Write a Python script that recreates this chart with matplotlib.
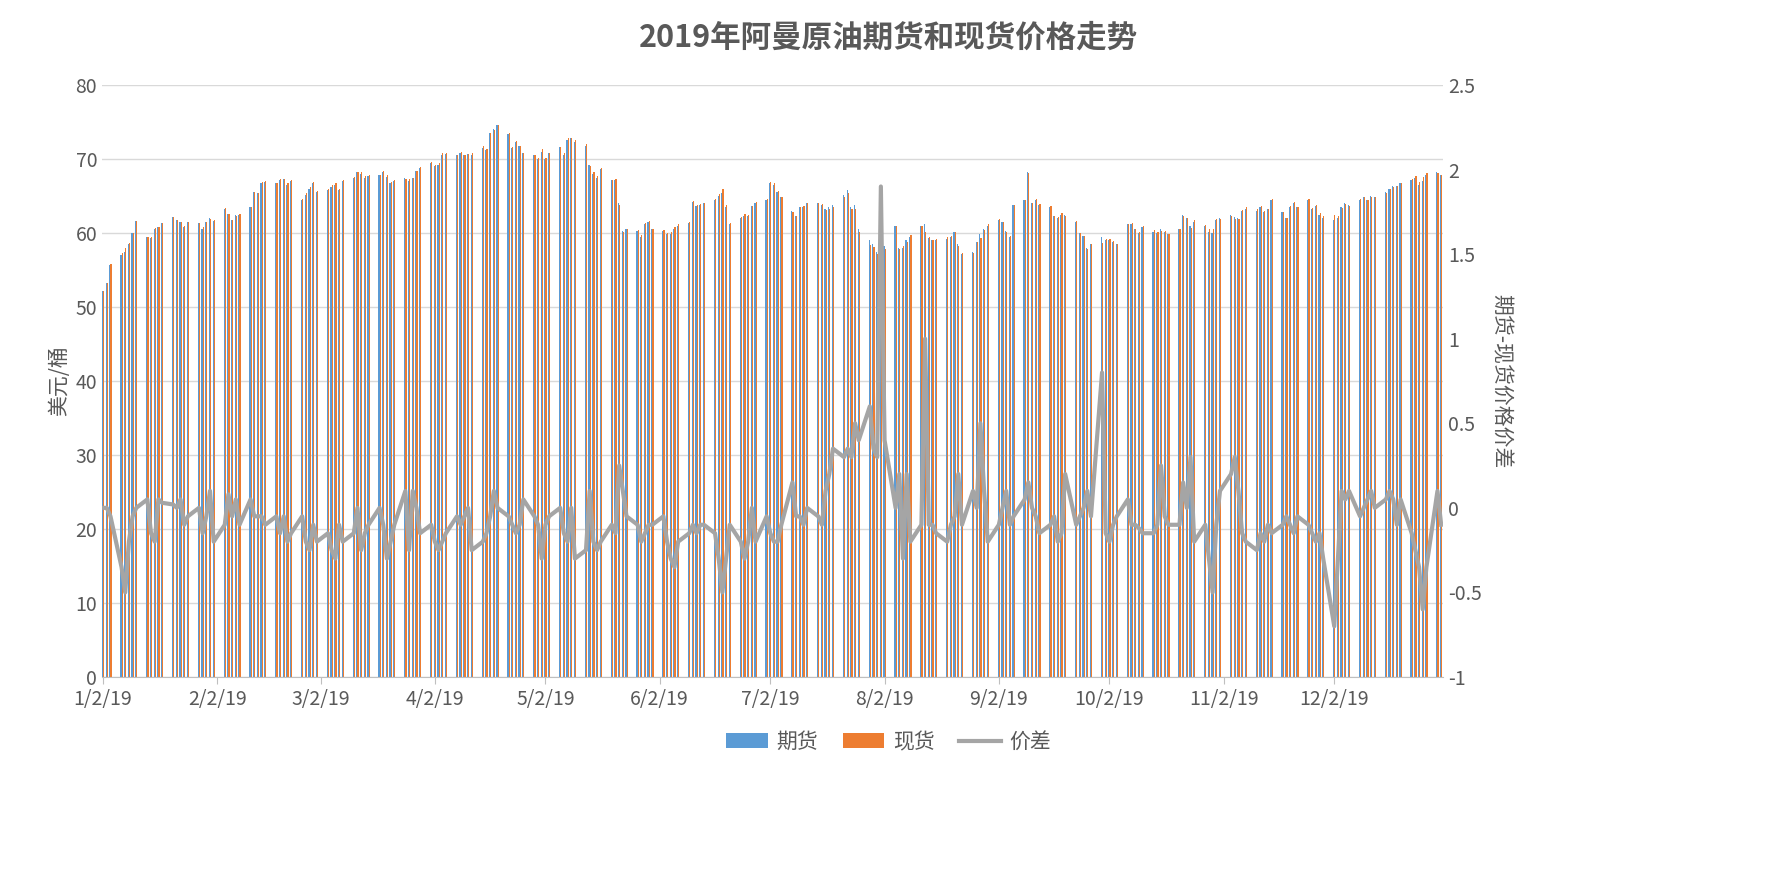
import matplotlib
matplotlib.use("Agg")
import matplotlib.pyplot as plt
import matplotlib.dates as mdates
import pandas as pd
import numpy as np

plt.rcParams['font.family'] = ['Noto Sans CJK SC', 'DejaVu Sans']

# futures price (USD/bbl), one value per business day, by month
futures = [
    52.2, 53.3, 55.7, 57, 57.5, 58.5, 60, 61.6, 59.5, 59.3, 60.5, 60.8, 61.4, 62.2, 61.8, 61.5, 60.8, 61.5, 61.3, 60.6, 61.5, 62.0,
    61.6, 63.3, 62.6, 61.7, 62.4, 62.5, 63.5, 65.5, 65.4, 66.8, 66.9, 66.7, 67.2, 67.3, 66.5, 67.0, 64.5, 65.2, 66.0, 66.8,
    65.5, 65.8, 66.2, 66.5, 65.8, 67.0, 67.4, 68.3, 68.0, 67.5, 67.7, 67.8, 68.3, 67.6, 66.7, 67.0, 67.4, 67.0, 67.5, 68.4, 68.8,
    69.5, 69.0, 69.2, 70.6, 70.7, 70.5, 70.8, 70.5, 70.7, 70.5, 71.5, 71.2, 73.5, 74.0, 74.6, 73.4, 71.5, 72.3, 71.7, 70.8, 70.5, 70.0,
    71.0, 70.0, 70.8, 71.6, 70.6, 72.6, 72.9, 72.3, 71.8, 69.2, 68.0, 67.5, 68.6, 67.1, 67.2, 64.0, 60.3, 60.5, 60.3, 59.5, 61.2, 61.5, 60.5,
    60.3, 59.8, 59.8, 60.5, 61.0, 61.3, 64.2, 63.6, 63.8, 64.0, 64.5, 65.0, 65.4, 63.5, 61.2, 62.0, 62.3, 62.3, 63.6, 64.0,
    64.5, 66.7, 66.5, 65.5, 64.8, 63.0, 62.3, 63.5, 63.5, 64.0, 64.0, 63.8, 63.2, 63.5, 63.8, 65.2, 65.8, 63.5, 63.8, 60.5, 59.0, 58.5, 57.5,
    57.8, 58.2, 61.0, 58.0, 58.0, 59.0, 59.5, 60.9, 61.2, 59.3, 59.0, 59.0, 59.2, 59.5, 60.1, 58.5, 57.2, 57.4, 58.8, 59.8, 60.5, 61.0,
    61.8, 61.5, 60.3, 59.5, 63.8, 64.5, 68.3, 64.0, 64.5, 63.8, 63.5, 62.3, 62.0, 62.5, 62.5, 61.5, 60.0, 59.6, 58.0, 58.5, 59.5,
    59.0, 59.0, 58.8, 58.5, 61.2, 61.2, 60.5, 60.0, 60.8, 60.2, 60.0, 60.5, 60.2, 59.8, 60.5, 62.5, 62.0, 61.0, 61.5, 61.0, 60.2, 60.0, 61.8,
    62.0, 62.5, 62.2, 62.0, 63.0, 63.3, 63.0, 63.5, 62.8, 63.2, 64.5, 62.8, 62.0, 63.5, 64.0, 63.5, 64.5, 63.2, 63.6, 62.5, 62.0,
    61.8, 62.0, 63.5, 64.0, 63.8, 64.5, 64.8, 64.5, 65.0, 64.8, 65.5, 66.0, 66.3, 66.3, 66.8, 67.2, 67.5, 66.5, 67.0, 67.8, 68.2, 67.8,
]

# futures - spot spread
spread = [
    0, 0, -0.05, -0.35, -0.5, -0.2, -0.05, 0, 0.05, -0.15, -0.2, 0.05, 0.03, 0.02, 0, 0.05, -0.1, -0.05, 0.0, -0.15, -0.05, 0.1,
    -0.2, -0.1, 0.08, -0.05, 0.05, -0.1, 0.05, -0.05, -0.05, -0.05, -0.1, -0.05, -0.15, -0.05, -0.2, -0.15, -0.05, -0.2, -0.25, -0.1,
    -0.2, -0.15, -0.25, -0.3, -0.1, -0.2, -0.15, 0, -0.25, -0.15, -0.1, 0.0, -0.1, -0.3, -0.2, -0.1, 0.1, -0.25, 0.1, 0.0, -0.15,
    -0.1, -0.2, -0.25, -0.2, -0.15, -0.05, -0.1, -0.05, 0.0, -0.25, -0.2, -0.15, -0.05, 0.1, 0.0, -0.05, -0.1, -0.15, -0.1, 0.05, -0.05, -0.1,
    -0.3, -0.1, -0.05, 0.0, -0.15, -0.2, 0.0, -0.3, -0.25, 0.1, -0.2, -0.25, -0.2, -0.1, -0.15, 0.25, 0.1, -0.05, -0.1, -0.2, -0.15, -0.1, -0.1,
    -0.05, -0.2, -0.3, -0.35, -0.2, -0.15, -0.1, -0.15, -0.1, -0.1, -0.15, -0.3, -0.5, -0.3, -0.1, -0.2, -0.3, -0.2, 0.0, -0.2,
    -0.05, -0.15, -0.2, -0.2, -0.1, 0.15, -0.05, -0.05, -0.1, 0.0, -0.05, -0.1, 0.1, 0.2, 0.35, 0.3, 0.35, 0.3, 0.5, 0.4, 0.6, 0.35, 0.3,
    1.9, 0.4, 0.0, 0.2, -0.3, 0.2, -0.2, -0.1, 1.0, -0.1, -0.1, -0.15, -0.2, -0.1, -0.05, 0.2, -0.1, 0.1, 0.0, 0.5, 0.1, -0.2,
    -0.1, 0.0, 0.1, -0.1, -0.05, 0.05, 0.15, 0.0, -0.05, -0.15, -0.1, -0.05, -0.2, -0.15, 0.2, -0.1, -0.05, 0.0, 0.1, -0.05, 0.8,
    -0.15, -0.2, -0.1, -0.05, 0.05, -0.1, -0.1, -0.12, -0.15, -0.15, -0.1, 0.25, -0.05, -0.1, -0.1, 0.15, 0.0, 0.3, -0.2, -0.1, -0.3, -0.5, -0.1,
    0.1, 0.2, 0.3, 0.1, -0.15, -0.2, -0.25, -0.15, -0.2, -0.1, -0.15, -0.1, -0.05, -0.1, -0.15, -0.05, -0.1, -0.15, -0.2, -0.15, -0.3,
    -0.7, -0.3, 0.1, 0.05, 0.1, -0.05, 0.0, 0.05, 0.1, 0.0, 0.05, 0.1, 0.05, -0.1, 0.05, -0.15, -0.25, -0.35, -0.6, -0.35, 0.1, -0.1,
]

dates = pd.bdate_range("2019-01-02", "2019-12-31")
n = min(len(dates), len(futures), len(spread))
dates = dates[:n]
fut = np.array(futures[:n])
spr = np.array(spread[:n])
spot = fut - spr

fig, ax = plt.subplots(figsize=(17.77, 8.73), dpi=100)
# reference plot area: x 102..1443, y 85..677
fig.subplots_adjust(left=102 / 1777, right=1443 / 1777, top=1 - 85 / 873, bottom=1 - 677 / 873)

x = mdates.date2num(dates)
w = 0.32
ax.bar(x - w / 2, fut, width=w, color="#5B9BD5", label="期货")
ax.bar(x + w / 2, spot, width=w, color="#ED7D31", label="现货")
ax.set_ylim(0, 80)
ax.set_yticks(range(0, 81, 10))
ax.set_xlim(mdates.date2num(pd.Timestamp("2019-01-02")) - 0.3, mdates.date2num(pd.Timestamp("2019-12-31")) + 0.5)
ticks = pd.date_range("2019-01-01", "2019-12-01", freq="MS") + pd.Timedelta(days=1)
ax.set_xticks(mdates.date2num(ticks))
ax.set_xticklabels([f"{d.month}/{d.day}/19" for d in ticks])
ax.grid(axis="y", color="#D9D9D9", linewidth=1)
ax.set_axisbelow(True)
for s in ["top", "right", "left"]:
    ax.spines[s].set_visible(False)
ax.spines["bottom"].set_color("#BFBFBF")
ax.tick_params(axis="both", colors="#595959", labelsize=14, length=0)
ax.tick_params(axis="x", length=5, color="#BFBFBF")
ax.set_ylabel("美元/桶", fontsize=15, color="#595959")

ax2 = ax.twinx()
ax2.plot(x, spr, color="#A5A5A5", linewidth=3, label="价差")
ax2.set_ylim(-1, 2.5)
ax2.set_yticks([-1, -0.5, 0, 0.5, 1, 1.5, 2, 2.5])
ax2.set_yticklabels(["-1", "-0.5", "0", "0.5", "1", "1.5", "2", "2.5"])
for s in ["top", "right", "left", "bottom"]:
    ax2.spines[s].set_visible(False)
ax2.tick_params(axis="y", colors="#595959", labelsize=14, length=0)
ax2.set_ylabel("期货-现货价格价差", fontsize=15, color="#595959", rotation=270, labelpad=22)

fig.suptitle("2019年阿曼原油期货和现货价格走势", fontsize=22, fontweight="bold", color="#595959", y=0.975)
h1, l1 = ax.get_legend_handles_labels()
h2, l2 = ax2.get_legend_handles_labels()
fig.legend(h1 + h2, l1 + l2, loc="center", ncol=3, frameon=False, fontsize=15,
           bbox_to_anchor=(0.5, 1 - 742 / 873), labelcolor="#595959",
           handlelength=2, columnspacing=1.2, handletextpad=0.4)
fig.savefig("out.png", dpi=100)
